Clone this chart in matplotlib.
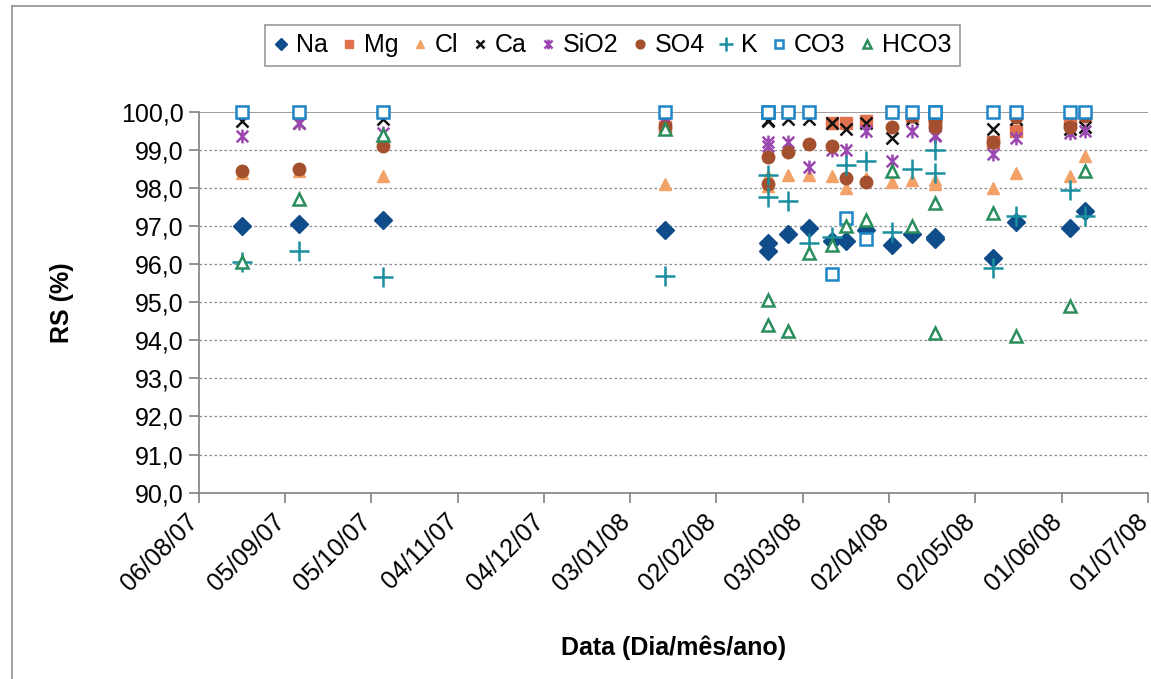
import matplotlib
matplotlib.use("Agg")
import matplotlib.pyplot as plt
import matplotlib.dates as mdates
from matplotlib.path import Path
import numpy as np
import pandas as pd

plt.rcParams['font.family'] = ['Liberation Sans', 'DejaVu Sans']

# sample dates (two samples on some days)
dates = ['2007-08-21', '2007-09-10', '2007-10-09', '2008-01-15',
         '2008-02-20', '2008-02-20', '2008-02-27', '2008-03-05',
         '2008-03-13', '2008-03-18', '2008-03-25', '2008-04-03',
         '2008-04-10', '2008-04-18', '2008-04-18', '2008-05-08',
         '2008-05-16', '2008-06-04', '2008-06-09']

Na = [97.0, 97.05, 97.15, 96.9, 96.55, 96.35, 96.8, 96.95, 96.6, 96.6,
      96.9, 96.5, 96.8, 96.65, 96.7, 96.15, 97.1, 96.95, 97.4]
Mg = [100.0, 100.0, 100.0, 99.6, 100.0, 100.0, 100.0, 100.0, 99.7, 99.7,
      99.75, 100.0, 99.9, 99.8, 99.75, 99.2, 99.5, 99.75, 99.95]
Cl = [98.4, 98.45, 98.3, 98.1, 98.3, 98.05, 98.35, 98.35, 98.3, 98.0,
      98.25, 98.15, 98.2, 98.1, 98.2, 98.0, 98.4, 98.3, 98.85]
Ca = [99.75, 99.7, 99.8, 99.8, 99.78, 99.75, 99.8, 99.8, 99.7, 99.55,
      99.7, 99.3, 99.8, 99.7, 99.65, 99.55, 99.8, 99.55, 99.6]
SiO2 = [99.35, 99.7, 99.45, 99.7, 99.2, 99.1, 99.2, 98.55, 99.0, 99.0,
        99.5, 98.7, 99.5, 99.35, 99.4, 98.9, 99.3, 99.45, 99.5]
SO4 = [98.45, 98.5, 99.1, 99.6, 98.8, 98.1, 98.95, 99.15, 99.1, 98.25,
       98.15, 99.6, 99.9, 99.75, 99.6, 99.2, 99.85, 99.6, 99.9]
K = [96.05, 96.35, 95.65, 95.7, 98.35, 97.75, 97.65, 96.55, 96.7, 98.6,
     98.7, 96.85, 98.5, 99.0, 98.4, 95.9, 97.25, 97.95, 97.25]
CO3 = [100.0, 100.0, 100.0, 100.0, 100.0, 100.0, 100.0, 100.0, 95.75, 97.2,
       96.65, 100.0, 100.0, 100.0, 100.0, 100.0, 100.0, 100.0, 100.0]
HCO3 = [96.05, 97.7, 99.4, 99.55, 95.05, 94.4, 94.25, 96.3, 96.5, 97.0,
        97.15, 98.45, 97.0, 97.6, 94.2, 97.35, 94.1, 94.9, 98.45]

x = pd.to_datetime(dates)

# Excel style star marker: an x with a vertical bar
star = Path([(-1, -1), (1, 1), (-1, 1), (1, -1), (0, -1.2), (0, 1.2)],
            [Path.MOVETO, Path.LINETO, Path.MOVETO, Path.LINETO, Path.MOVETO, Path.LINETO])

series = [
    ('Na', Na, dict(marker='D', ms=9, color='#0E4C8A', mec='#0E4C8A')),
    ('Mg', Mg, dict(marker='s', ms=8, color='#E2714E', mec='#E2714E')),
    ('Cl', Cl, dict(marker='^', ms=9, color='#F2A267', mec='#F2A267')),
    ('Ca', Ca, dict(marker='x', ms=9, color='#111111', mew=1.8)),
    ('SiO2', SiO2, dict(marker=star, ms=10, color='#9A48B0', mfc='none', mew=1.8)),
    ('SO4', SO4, dict(marker='o', ms=9, color='#A4502E', mec='#A4502E')),
    ('K', K, dict(marker='+', ms=15, color='#1A8FA0', mew=1.8)),
    ('CO3', CO3, dict(marker='s', ms=8, color='#1F86C8', mfc='white', mew=1.8)),
    ('HCO3', HCO3, dict(marker='^', ms=9, color='#2A8E5C', mfc='white', mew=1.8)),
]

fig = plt.figure(figsize=(11.51, 6.79), dpi=100)
ax = fig.add_axes([0.1725, 0.2744, 0.825, 0.5611])

for name, vals, style in series:
    ax.plot(x, vals, linestyle='none', label=name, clip_on=False, **style)

ax.set_ylim(90, 100)
ax.set_yticks(np.arange(90, 100.1, 1))
ax.yaxis.set_major_formatter(plt.FuncFormatter(lambda v, p: ('%.1f' % v).replace('.', ',')))

start = pd.Timestamp('2007-08-06')
ticks = [start + pd.Timedelta(days=30 * i) for i in range(12)]
ax.set_xlim(ticks[0], ticks[-1])
ax.set_xticks(ticks)
ax.set_xticklabels([])
# rotated date labels, end of text a little left of each tick
for t in ticks:
    ax.annotate(t.strftime('%d/%m/%y'), xy=(mdates.date2num(t), 0),
                xycoords=ax.get_xaxis_transform(), xytext=(-9, -12),
                textcoords='offset points', rotation=45, ha='right', va='top',
                rotation_mode='anchor', fontsize=18, annotation_clip=False)

for v in range(91, 100):
    ax.axhline(v, color='#8c8c8c', lw=0.9, linestyle=(0, (2, 2)), zorder=0)
ax.axhline(100, color='#8c8c8c', lw=1.2, zorder=0)

for s in ['top', 'right']:
    ax.spines[s].set_visible(False)
for s in ['left', 'bottom']:
    ax.spines[s].set_color('#808080')
    ax.spines[s].set_linewidth(1.2)
ax.tick_params(axis='both', colors='#808080', labelcolor='black', labelsize=18,
               length=7, width=1.2, direction='out')

ax.set_ylabel('RS (%)', fontsize=18, fontweight='bold', labelpad=34)
ax.set_xlabel('Data (Dia/mês/ano)', fontsize=18, fontweight='bold', labelpad=92)

leg = fig.legend(loc='upper center', bbox_to_anchor=(0.532, 0.982), ncol=9,
                 fontsize=18, frameon=True, fancybox=False, edgecolor='#808080',
                 handlelength=0.6, handletextpad=0.3, columnspacing=0.55,
                 borderpad=0.35, markerscale=0.7)
leg.get_frame().set_linewidth(1.2)

# outer chart border
fig.add_artist(plt.Line2D([12 / 1151, 12 / 1151], [0, 1 - 6 / 679], color='#909090', lw=1.2))
fig.add_artist(plt.Line2D([12 / 1151, 1], [1 - 6 / 679, 1 - 6 / 679], color='#909090', lw=1.2))

fig.savefig('out.png', dpi=100)
